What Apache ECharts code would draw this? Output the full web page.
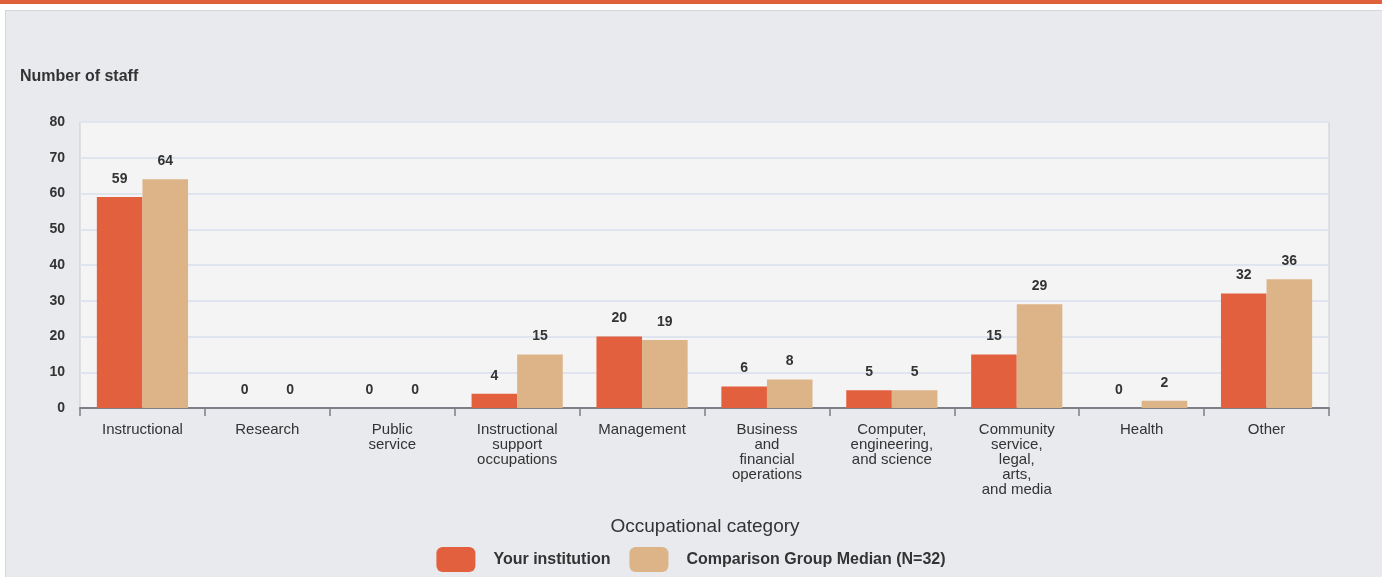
<!DOCTYPE html>
<html>
<head>
<meta charset="utf-8">
<script src="https://cdn.jsdelivr.net/npm/echarts@6/dist/echarts.min.js"></script>
<style>
  html, body { margin: 0; padding: 0; background: #ffffff; }
  #wrap { position: relative; width: 1382px; height: 577px; overflow: hidden; background: #ffffff; }
  #topbar { position: absolute; left: 0; top: 0; width: 1382px; height: 4px; background: #e0603c; }
  #panel { position: absolute; left: 5px; top: 10px; width: 1400px; height: 600px; background: #e9eaee; border: 1px solid #d6d7da; }
  #chart { position: absolute; left: 0; top: 0; width: 1382px; height: 577px; }
</style>
</head>
<body>
<div id="wrap">
  <div id="topbar"></div>
  <div id="panel"></div>
  <div id="chart"></div>
</div>
<script>
const categories = [
  'Instructional',
  'Research',
  'Public\nservice',
  'Instructional\nsupport\noccupations',
  'Management',
  'Business\nand\nfinancial\noperations',
  'Computer,\nengineering,\nand science',
  'Community\nservice,\nlegal,\narts,\nand media',
  'Health',
  'Other'
];
const yourInstitution = [59, 0, 0, 4, 20, 6, 5, 15, 0, 32];
const comparisonMedian = [64, 0, 0, 15, 19, 8, 5, 29, 2, 36];
const seriesNames = ['Your institution', 'Comparison Group Median (N=32)'];
const yTitle = 'Number of staff';
const xTitle = 'Occupational category';

const chart = echarts.init(document.getElementById('chart'), null, { renderer: 'canvas' });
const font = 'Arial, "Liberation Sans", sans-serif';
const labelStyle = {
  show: true, position: 'top', distance: 11,
  color: '#333333', fontWeight: 'bold', fontSize: 14, fontFamily: font
};
chart.setOption({
  backgroundColor: 'transparent',
  animation: false,
  grid: { left: 80, right: 53, top: 122, bottom: 169, show: true, backgroundColor: '#f4f4f5', borderColor: '#c9ccd3', borderWidth: 1 },
  title: [
    { text: yTitle, left: 15, top: 64, textStyle: { fontSize: 16, fontWeight: 'bold', color: '#333', fontFamily: font } },
  ],
  graphic: [
    { type: 'text', x: 705, y: 527,
      style: { text: xTitle, fontSize: 19, fill: '#333', fontFamily: font, align: 'center', verticalAlign: 'middle' } }
  ],
  legend: {
    left: 'center', top: 542, itemWidth: 39, itemHeight: 25, itemGap: 19,
    icon: 'roundRect',
    textStyle: { fontSize: 16, color: '#333', fontWeight: 'bold', fontFamily: font, padding: [0, 0, 0, 13] },
    data: seriesNames
  },
  xAxis: {
    type: 'category', data: categories,
    axisLine: { lineStyle: { color: '#7d7f87', width: 2 } },
    axisTick: { show: true, length: 8, lineStyle: { color: '#7d7f87', width: 1.5 } },
    axisLabel: { color: '#333', fontSize: 15, fontFamily: font, lineHeight: 15, margin: 14, interval: 0 }
  },
  yAxis: {
    type: 'value', min: 0, max: 80, interval: 10,
    axisLine: { show: false }, axisTick: { show: false },
    splitLine: { lineStyle: { color: '#dfe4ee', width: 2 } },
    axisLabel: { color: '#333', fontWeight: 'bold', fontSize: 14, fontFamily: font, margin: 15 }
  },
  series: [
    { name: seriesNames[0], type: 'bar', data: yourInstitution, barGap: '0%', barCategoryGap: '27%',
      itemStyle: { color: '#e2603d' }, label: labelStyle },
    { name: seriesNames[1], type: 'bar', data: comparisonMedian,
      itemStyle: { color: '#ddb487' }, label: labelStyle }
  ]
});
</script>
</body>
</html>
